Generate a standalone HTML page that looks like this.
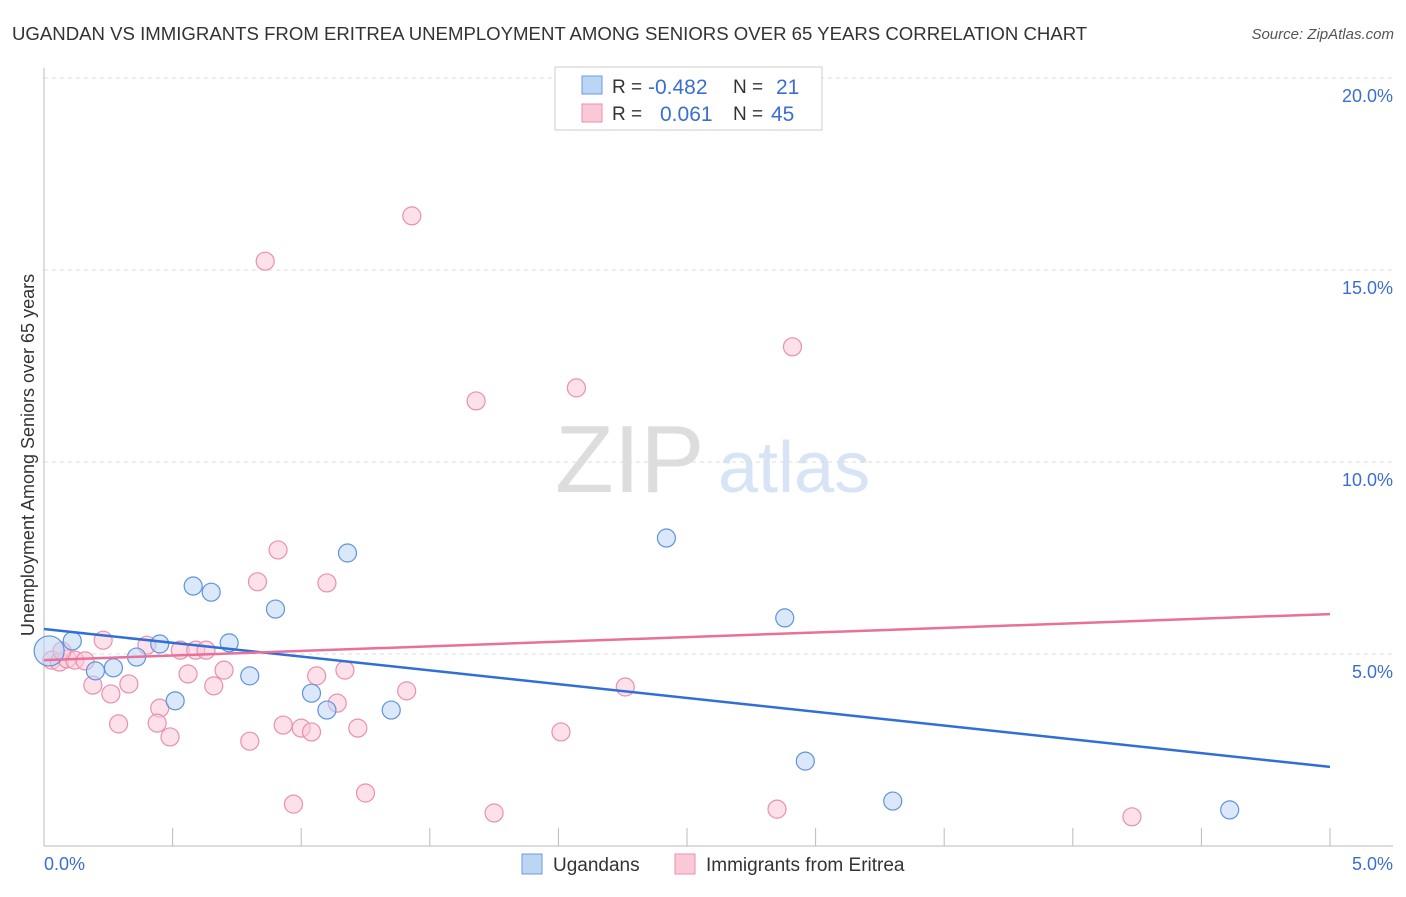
<!DOCTYPE html>
<html><head><meta charset="utf-8"><style>
body{margin:0;background:#fff;font-family:"Liberation Sans",sans-serif;}
svg text{font-family:"Liberation Sans",sans-serif;}
</style></head><body>
<svg id="c" width="1406" height="892">
<text x="12" y="40" font-size="18.6" fill="#333">UGANDAN VS IMMIGRANTS FROM ERITREA UNEMPLOYMENT AMONG SENIORS OVER 65 YEARS CORRELATION CHART</text>
<text x="1394" y="39" font-size="15" fill="#555" font-style="italic" text-anchor="end">Source: ZipAtlas.com</text>
<text x="555" y="492" font-size="96" fill="#ddd" font-family="Liberation Serif">ZIP</text>
<text x="718" y="492" font-size="72" fill="#d6e4f5">atlas</text>
<text transform="translate(34,455) rotate(-90)" font-size="18" fill="#333" text-anchor="middle">Unemployment Among Seniors over 65 years</text>
<g id="axes"></g>
<g id="marks"></g>
<g>
<rect x="555" y="67" width="267" height="63" fill="#fff" stroke="#ccc"/>
<rect x="582" y="76" width="20" height="18" fill="#bcd5f5" stroke="#6a9de0"/>
<rect x="582" y="104" width="20" height="18" fill="#f9c9d8" stroke="#ea8fae"/>
<text x="612" y="93" font-size="19" fill="#333">R =</text>
<text x="648" y="94" font-size="21" fill="#3a6fd0">-0.482</text>
<text x="733" y="93" font-size="19" fill="#333">N =</text>
<text x="776" y="94" font-size="21" fill="#3a6fd0">21</text>
<text x="612" y="120" font-size="19" fill="#333">R =</text>
<text x="660" y="121" font-size="21" fill="#3a6fd0">0.061</text>
<text x="733" y="120" font-size="19" fill="#333">N =</text>
<text x="771" y="121" font-size="21" fill="#3a6fd0">45</text>
</g>
<g>
<rect x="522" y="854" width="20" height="20" fill="#bcd5f5" stroke="#6a9de0"/>
<text x="553" y="871" font-size="19" fill="#333">Ugandans</text>
<rect x="675" y="854" width="20" height="20" fill="#f9c9d8" stroke="#ea8fae"/>
<text x="706" y="871" font-size="19" fill="#333">Immigrants from Eritrea</text>
</g>
</svg>
<script>
const yTicks=[5,10,15,20];
const yTickLabels=["5.0%","10.0%","15.0%","20.0%"];
const xLabels=["0.0%","5.0%"];
const blueX=[0.02,0.11,0.20,0.27,0.36,0.45,0.51,0.58,0.65,0.72,0.80,0.90,1.04,1.10,1.18,1.35,2.42,2.88,2.96,3.30,4.61];
const blueY=[5.08,5.34,4.56,4.64,4.92,5.26,3.78,6.77,6.61,5.29,4.43,6.17,3.98,3.54,7.63,3.54,8.02,5.94,2.21,1.17,0.94];
const pinkX=[0.03,0.06,0.09,0.12,0.16,0.23,0.19,0.26,0.33,0.29,0.40,0.45,0.44,0.49,0.53,0.56,0.59,0.63,0.66,0.70,0.80,0.86,0.83,0.91,0.93,0.97,1.00,1.04,1.06,1.10,1.14,1.17,1.22,1.25,1.41,1.43,1.68,1.75,2.01,2.07,2.26,2.85,2.91,4.23,0.07];
const pinkY=[4.84,4.79,4.87,4.84,4.82,5.36,4.19,3.96,4.22,3.18,5.23,3.59,3.20,2.84,5.10,4.48,5.10,5.10,4.17,4.58,2.73,15.23,6.88,7.71,3.15,1.09,3.07,2.97,4.43,6.85,3.72,4.58,3.07,1.38,4.04,16.41,11.59,0.86,2.97,11.93,4.14,0.96,13.00,0.76,5.08];
const blueLine=[5.65,2.06];
const pinkLine=[4.84,6.04];
const xs=v=>44+v*257.2, ys=v=>846-v*38.4;
const NS="http://www.w3.org/2000/svg";
const ax=document.getElementById('axes'), mk=document.getElementById('marks');
function el(t,a,p){const e=document.createElementNS(NS,t);for(const k in a)e.setAttribute(k,a[k]);p.appendChild(e);return e;}
yTicks.forEach((t,i)=>{
  const g=el('line',{x1:44,x2:1393,y1:ys(t),y2:ys(t),stroke:'#ddd','stroke-dasharray':'4,4'},ax);
  
  
  const l=el('text',{x:1393,y:ys(t)+24,'font-size':18,fill:'#3a6fd0','text-anchor':'end'},ax);
  l.textContent=yTickLabels[i];
  
  
});
const a1=el('line',{x1:44,x2:44,y1:68,y2:846,stroke:'#bbb'},ax);


const a2=el('line',{x1:44,x2:1393,y1:846,y2:846,stroke:'#bbb'},ax);


for(let i=1;i<=10;i++){const t=el('line',{x1:xs(i*0.5),x2:xs(i*0.5),y1:828,y2:846,stroke:'#bbb'},ax);
  
  }
[[0,44,'start'],[5,1393,'end']].forEach((d,i)=>{const t=el('text',{x:d[1],y:870,'font-size':18,fill:'#3a6fd0','text-anchor':d[2]},ax);t.textContent=xLabels[i];
  
  });
function pts(X,Y,fill,stroke,name){X.forEach((x,i)=>{const c=el('circle',{cx:xs(x),cy:ys(Y[i]),r:(name==='ugandan-point'&&i===0)?15:9,fill:fill,'fill-opacity':0.55,stroke:stroke,'stroke-width':1.2},mk);
  
  });}
pts(pinkX,pinkY,'#f9c9d8','#ea8fae','eritrea-point');
pts(blueX,blueY,'#bcd5f5','#5f93dd','ugandan-point');
const bl=el('line',{x1:xs(0),x2:xs(5),y1:ys(blueLine[0]),y2:ys(blueLine[1]),stroke:'#2f6fd6','stroke-width':2.5},mk);


const pl=el('line',{x1:xs(0),x2:xs(5),y1:ys(pinkLine[0]),y2:ys(pinkLine[1]),stroke:'#e8709a','stroke-width':2.5},mk);


</script>
</body></html>
